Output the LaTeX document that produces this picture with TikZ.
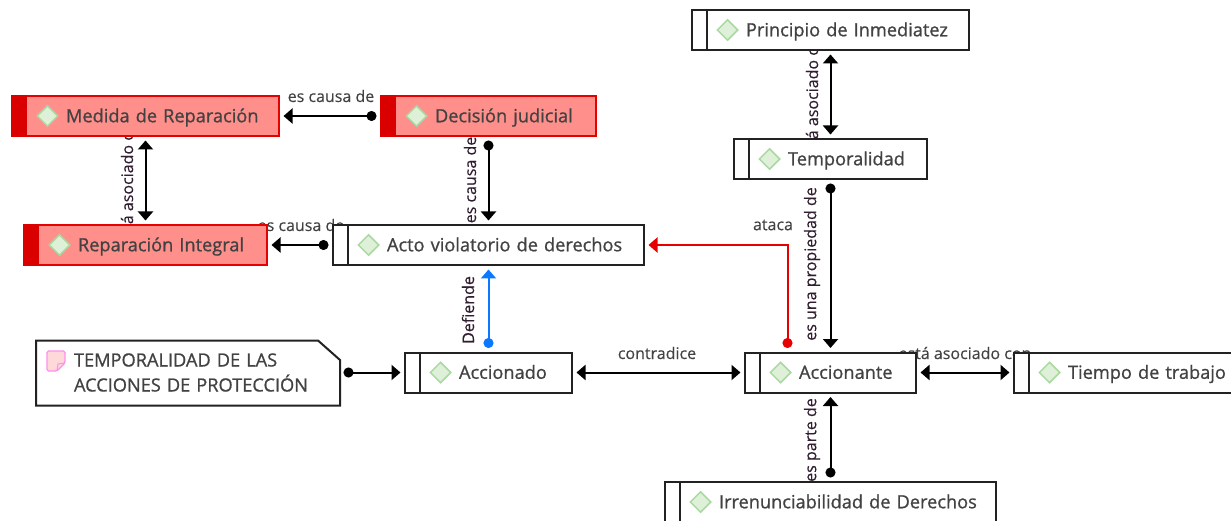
\documentclass[tikz,border=0pt]{standalone}
\usepackage{fontspec}
\setmainfont{Open Sans}
\newfontfamily\boxfont[RawFeature={embolden=0.9}]{Open Sans}
\newfontfamily\labelfont[RawFeature={embolden=0.3}]{Open Sans}
\usetikzlibrary{arrows.meta,shapes.geometric,calc}
\definecolor{inktext}{HTML}{424242}
\definecolor{inkline}{HTML}{222222}
\definecolor{redfill}{HTML}{FF8F8A}
\definecolor{redline}{HTML}{E60000}
\definecolor{linkblue}{HTML}{0A78FF}
\definecolor{diamfill}{HTML}{DFF0D8}
\definecolor{diamline}{HTML}{A9D8A0}
\tikzset{
  conceptbox/.style={draw=inkline,line width=2pt,fill=white,text=inktext,inner xsep=2pt,inner ysep=0pt,align=left,font=\boxfont\fontsize{18.2}{20}\selectfont},
  redbox/.style={conceptbox,draw=redline,fill=redfill},
  diam/.style={diamond,draw=diamline,fill=diamfill,line width=1.5pt,minimum width=21pt,minimum height=21pt,inner sep=0pt},
  edgelabel/.style={text=inktext,inner sep=0pt,font=\labelfont\fontsize{16}{18}\selectfont},
  vedgelabel/.style={edgelabel,rotate=90,text=inkline!85!violet},
  conn/.style={line width=2pt,draw=black},
  both/.style={conn,{Triangle[length=9pt,width=15pt]}-{Triangle[length=9pt,width=15pt]},shorten <=3.5pt,shorten >=3.5pt},
  dotted link/.style={conn,{Circle[length=10pt,width=10pt]}-{Triangle[length=9pt,width=15pt]},shorten <=3.5pt,shorten >=3.5pt}
}
% name, x1, y1, x2, y2, style, text
\newcommand{\conceptnode}[7]{%
  \pgfmathsetmacro{\cw}{#4-#2}\pgfmathsetmacro{\ch}{#5-#3-1}%
  \pgfmathsetmacro{\cx}{(#2+#4)/2}\pgfmathsetmacro{\cy}{(#3+#5)/2}%
  \pgfmathsetmacro{\tw}{\cw-4}%
  \node[#6,minimum width=\cw pt,minimum height=\ch pt,text width=\tw pt] (#1) at (\cx,\cy) {\hspace*{52pt}\vphantom{Áp}#7};
  \node[diam] (#1-d) at ($(#1.west)+(36.5,0)$) {};
}
\newcommand{\whiteband}[1]{\draw[inkline,line width=2pt] ($(#1.north west)+(15.5,0)$) -- ($(#1.south west)+(15.5,0)$);}
\newcommand{\redband}[1]{\fill[redline!95!black] ($(#1.north west)+(0,0)$) rectangle ($(#1.south west)+(16,0)$);}
\begin{document}
\begin{tikzpicture}[x=1pt,y=-1pt]
\useasboundingbox (0,0) rectangle (1231,521);
\clip (0,0) rectangle (1231,521);
% labels lie under the boxes
\node[edgelabel] (l1) at (331,96) {es causa de};
\node[edgelabel] (l2) at (301,225) {es causa de};
\node[vedgelabel] (l3) at (127,180) {está asociado con};
\node[vedgelabel] (l4) at (470,180) {es causa de};
\node[vedgelabel] (l5) at (468,310) {Defiende};
\node[edgelabel] (l6) at (773,225) {ataca};
\node[edgelabel] (l7) at (657,353) {contradice};
\node[edgelabel] (l8) at (965,353) {está asociado con};
\node[vedgelabel] (l9) at (812,95) {está asociado con};
\node[vedgelabel] (l10) at (812,264) {es una propiedad de};
\node[vedgelabel] (l11) at (812,440) {es parte de};
% concepts
\conceptnode{med}{12}{95.5}{279}{136.5}{redbox}{Medida de Reparación}\redband{med}
\conceptnode{dec}{381}{95.5}{596}{136.5}{redbox}{Decisión judicial}\redband{dec}
\conceptnode{rep}{24}{224.5}{267}{265.5}{redbox}{Reparación Integral}\redband{rep}
\conceptnode{acto}{333}{224.5}{644}{265.5}{conceptbox}{Acto violatorio de derechos}\whiteband{acto}
\conceptnode{accdo}{405}{352}{572}{393}{conceptbox}{Accionado}\whiteband{accdo}
\conceptnode{accte}{745}{352}{916}{393}{conceptbox}{Accionante}\whiteband{accte}
\conceptnode{tiem}{1014}{352}{1280}{393}{conceptbox}{Tiempo de trabajo}\whiteband{tiem}
\conceptnode{prin}{692}{9.5}{969}{50.5}{conceptbox}{Principio de Inmediatez}\whiteband{prin}
\conceptnode{temp}{734}{138.5}{927}{179.5}{conceptbox}{Temporalidad}\whiteband{temp}
\conceptnode{irre}{665}{481.5}{996}{522.5}{conceptbox}{Irrenunciabilidad de Derechos}\whiteband{irre}
% note
\node[text=inktext,inner sep=0pt,minimum width=266pt,minimum height=50pt,text width=266pt,align=left,font=\boxfont\fontsize{18.2}{25}\selectfont] (noteText) at (207,372.5) {TEMPORALIDAD DE LAS\\ACCIONES DE PROTECCIÓN};
\coordinate (noteNW) at (36,340.5);
\coordinate (noteSE) at (340,405.5);
\draw[inkline,line width=2pt] (noteNW) -- (noteNW -| 318,0) -- (340,360) -- (noteSE) -- (noteSE -| noteNW) -- cycle;
\draw[draw=pink!50!magenta!70,fill=pink!60!white,line width=1.2pt,rounded corners=1.5pt] (47,351) -- (65,351) -- (65,363) -- (57,371) -- (47,371) -- cycle;
\draw[draw=pink!50!magenta!70,line width=1pt] (65,363) -- (58,364) -- (57,371);
\coordinate (noteOut) at (340,372.5 |- accdo.west);
% connectors
\draw[dotted link] (dec.west) -- (med.east);
\draw[both] (med.south) -- (rep.north);
\draw[dotted link] (dec.south) -- (acto.north);
\draw[dotted link] (acto.west) -- (rep.east);
\draw[dotted link,draw=linkblue,color=linkblue] (accdo.north) -- (acto.south);
\draw[dotted link] (noteSE |- accdo.west) -- (accdo.west);
\draw[both] (accdo.east) -- (accte.west);
\draw[both] (accte.east) -- (tiem.west);
\draw[both] (prin.south) -- (temp.north);
\draw[dotted link] (temp.south) -- (accte.north);
\draw[dotted link] (irre.north) -- (accte.south);
\coordinate (redStart) at ($(accte.north)+(-43,0)$);
\draw[dotted link,draw=redline,color=redline] (redStart) -- (redStart |- acto.east) -- (acto.east);
\end{tikzpicture}
\end{document}
